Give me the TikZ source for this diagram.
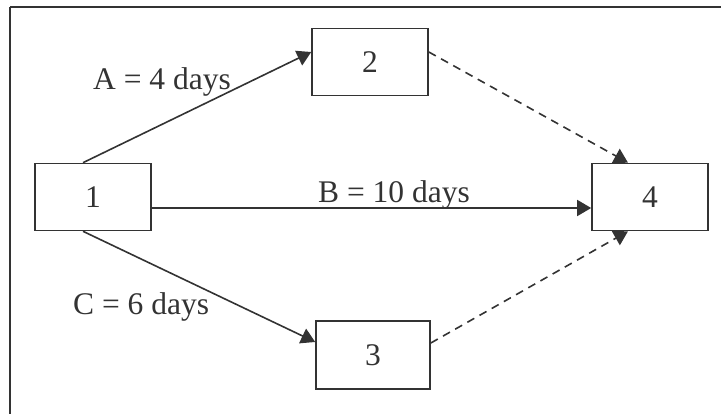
\documentclass[tikz,border=0pt]{standalone}
\usepackage{fontspec}
\setmainfont{Liberation Serif}
\usetikzlibrary{arrows.meta}
\definecolor{ink}{HTML}{333333}
\begin{document}
\begin{tikzpicture}[x=1pt,y=-1pt,
  font=\fontsize{31.5}{36}\selectfont,
  every node/.style={text=ink},
  boxnode/.style={draw=ink,line width=1.6pt,minimum width=116pt,minimum height=67pt,inner sep=0pt},
  link/.style={draw=ink,line width=1.6pt,-{Triangle[length=14pt,width=16pt]}},
  dlink/.style={link,dash pattern=on 8pt off 6pt},
  lbl/.style={anchor=base west,inner sep=0pt}]
\useasboundingbox (0,0) rectangle (721,414);
\draw[ink,line width=2pt] (10,7) -- (721,7);
\draw[ink,line width=2pt] (10,7) -- (10,414);
\node[boxnode] (b1) at (93,197) {1};
\node[boxnode] (b2) at (370,62) {2};
\node[boxnode,minimum width=114pt,minimum height=68pt] (b3) at (373,355) {3};
\node[boxnode] (b4) at (650,197) {4};
\draw[link] ([xshift=-10pt]b1.north) -- ([yshift=10pt]b2.west);
\draw[link] ([yshift=-11pt]b1.east) -- ([yshift=-11pt]b4.west);
\draw[link] ([xshift=-10pt]b1.south) -- ([yshift=13pt]b3.west);
\draw[dlink] ([yshift=10pt]b2.east) -- ([xshift=-22pt]b4.north);
\draw[dlink] ([yshift=12pt]b3.east) -- ([xshift=-22pt]b4.south);
\node[lbl] (la) at (93,90) {A = 4 days};
\node[lbl] (lb) at (318,203) {B = 10 days};
\node[lbl] (lc) at (73,315) {C = 6 days};
\end{tikzpicture}
\end{document}
